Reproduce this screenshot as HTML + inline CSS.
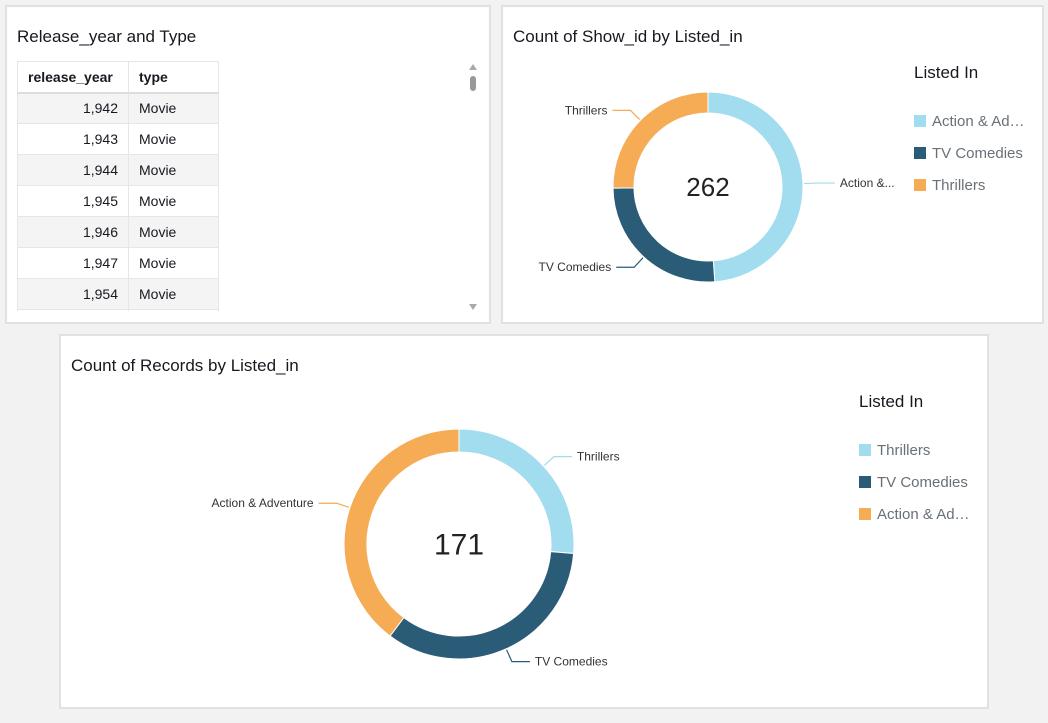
<!DOCTYPE html>
<html><head><meta charset="utf-8">
<style>
body{margin:0;width:1048px;height:723px;background:#f2f2f2;font-family:"Liberation Sans",sans-serif;position:relative;overflow:hidden}
.panel{position:absolute;background:#fff;border:2px solid #e1e1e1;box-sizing:border-box}
.title{position:absolute;font-size:17px;color:#16191f}
.tw{position:absolute;left:10px;top:54px;height:250px;overflow:hidden}
table{border-collapse:collapse;font-size:14px;color:#16191f}
td,th{border:1px solid #e6e6e6;height:31px;padding:0 10px;box-sizing:border-box}
th{text-align:left;font-weight:bold;border-bottom:2px solid #ddd;height:31px}
td.n{text-align:right;width:111px}
td.t{width:90px}
tr:nth-child(even) td{background:#f4f4f4}
.leg{position:absolute;font-size:15px;color:#687078}
.leg .h{font-size:17px;color:#16191f;margin-bottom:22px}
.leg .i{height:32px;display:flex;align-items:center;gap:6px}
.sw{width:12px;height:12px;display:inline-block}
svg{position:absolute;left:0;top:0}
</style></head><body>
<div class="panel" style="left:5px;top:5px;width:486px;height:319px">
 <div class="title" style="left:10px;top:20px">Release_year and Type</div>
 <div class="tw">
 <table>
  <tr><th style="width:111px">release_year</th><th style="width:90px">type</th></tr>
  <tr><td class="n">1,942</td><td class="t">Movie</td></tr>
  <tr><td class="n">1,943</td><td class="t">Movie</td></tr>
  <tr><td class="n">1,944</td><td class="t">Movie</td></tr>
  <tr><td class="n">1,945</td><td class="t">Movie</td></tr>
  <tr><td class="n">1,946</td><td class="t">Movie</td></tr>
  <tr><td class="n">1,947</td><td class="t">Movie</td></tr>
  <tr><td class="n">1,954</td><td class="t">Movie</td></tr>
  <tr><td class="n">1,955</td><td class="t">Movie</td></tr>
 </table>
 </div>
 <div style="position:absolute;left:462px;top:57px;width:0;height:0;border-left:4px solid transparent;border-right:4px solid transparent;border-bottom:6px solid #aaa"></div>
 <div style="position:absolute;left:463px;top:69px;width:6px;height:15px;border-radius:3px;background:#999"></div>
 <div style="position:absolute;left:462px;top:297px;width:0;height:0;border-left:4px solid transparent;border-right:4px solid transparent;border-top:6px solid #aaa"></div>
</div>
<div class="panel" style="left:501px;top:5px;width:543px;height:319px">
 <div class="title" style="left:10px;top:20px">Count of Show_id by Listed_in</div>
 <div class="leg" style="left:411px;top:56px">
  <div class="h">Listed In</div>
  <div class="i"><span class="sw" style="background:#a1dcef"></span>Action &amp; Ad…</div>
  <div class="i"><span class="sw" style="background:#2b5c77"></span>TV Comedies</div>
  <div class="i"><span class="sw" style="background:#f6ab55"></span>Thrillers</div>
 </div>
</div>
<div class="panel" style="left:59px;top:334px;width:930px;height:375px">
 <div class="title" style="left:10px;top:20px">Count of Records by Listed_in</div>
 <div class="leg" style="left:798px;top:56px">
  <div class="h">Listed In</div>
  <div class="i"><span class="sw" style="background:#a1dcef"></span>Thrillers</div>
  <div class="i"><span class="sw" style="background:#2b5c77"></span>TV Comedies</div>
  <div class="i"><span class="sw" style="background:#f6ab55"></span>Action &amp; Ad…</div>
 </div>
</div>
<svg id="chart" width="1048" height="723"></svg>
<script>
const topCategories=["Action &...","TV Comedies","Thrillers"];
const topValues=[128,68,66];
const bottomCategories=["Thrillers","TV Comedies","Action & Adventure"];
const bottomValues=[45,58,68];
const colors=["#a1dcef","#2b5c77","#f6ab55"];
const svg=document.getElementById('chart');
const NS="http://www.w3.org/2000/svg";
function mk(t,a){const e=document.createElementNS(NS,t);for(const k in a)e.setAttribute(k,a[k]);svg.appendChild(e);return e;}
function pt(cx,cy,r,a){return [cx+r*Math.sin(a),cy-r*Math.cos(a)];}
function donut(cx,cy,R,r,cats,vals,fs,name){
 const tot=vals.reduce((a,b)=>a+b,0);let a0=0;
 vals.forEach((v,i)=>{
  const a1=a0+v/tot*2*Math.PI;const lg=(a1-a0)>Math.PI?1:0;
  const p1=pt(cx,cy,R,a0),p2=pt(cx,cy,R,a1),p3=pt(cx,cy,r,a1),p4=pt(cx,cy,r,a0);
  const p=mk('path',{d:`M${p1}A${R},${R} 0 ${lg} 1 ${p2}L${p3}A${r},${r} 0 ${lg} 0 ${p4}Z`,fill:colors[i],stroke:'#fff','stroke-width':1});
  
  
  const am=(a0+a1)/2;const s=pt(cx,cy,R+1,am),e=pt(cx,cy,R+14,am);
  const right=Math.sin(am)>=0;const ex=e[0]+(right?18:-18);
  const l=mk('polyline',{points:`${s} ${e} ${ex},${e[1]}`,fill:'none',stroke:colors[i],'stroke-width':1.2});
  
  
  const t=mk('text',{x:ex+(right?5:-5),y:e[1]+4,'font-size':12,fill:'#333','text-anchor':right?'start':'end','font-family':'Liberation Sans, sans-serif'});
  t.textContent=cats[i];
  
  
  a0=a1;
 });
 const c=mk('text',{x:cx,y:cy+fs*0.35,'font-size':fs,fill:'#222','text-anchor':'middle','font-family':'Liberation Sans, sans-serif'});
 c.textContent=tot;
 
 
}
donut(708,187,95,74,topCategories,topValues,26,'top');
donut(459,544,115,92,bottomCategories,bottomValues,30,'bottom');
</script>
</body></html>
